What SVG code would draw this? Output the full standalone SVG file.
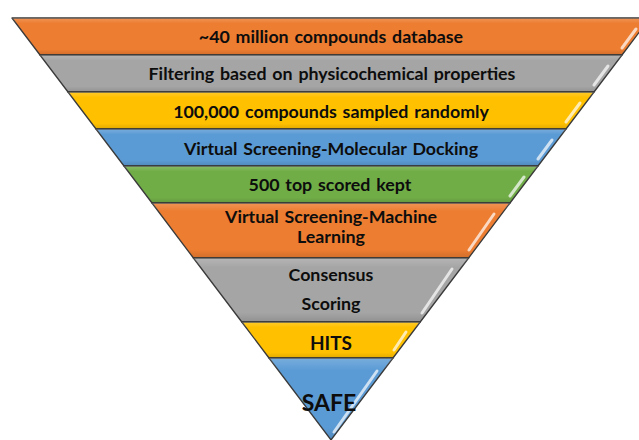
<svg xmlns="http://www.w3.org/2000/svg" width="639" height="440" viewBox="0 0 639 440">
<style>
.band{stroke:#3a3a3a;stroke-width:1.3;stroke-linejoin:round}
.o{fill:#ED7D31}.g{fill:#A5A5A5}.y{fill:#FFC000}.b{fill:#5B9BD5}.gr{fill:#70AD47}
.sh{fill:url(#shade);stroke:none}
.hl{stroke:#ffffff;stroke-opacity:0.7;stroke-width:3;stroke-linecap:round;fill:none}
text{font-family:Lato,"Liberation Sans",sans-serif;font-weight:bold;fill:#0d0d0d;text-anchor:middle;font-size:17.8px;word-spacing:1.5px}
</style>
<defs>
<linearGradient id="shade" x1="0" y1="0" x2="0" y2="1">
<stop offset="0" stop-color="#fff" stop-opacity="0.18"/>
<stop offset="0.15" stop-color="#fff" stop-opacity="0"/>
<stop offset="0.85" stop-color="#000" stop-opacity="0"/>
<stop offset="1" stop-color="#000" stop-opacity="0.12"/>
</linearGradient>
</defs>
<rect width="639" height="440" fill="#fff"/>
<g id="band1">
<polygon class="band o" points="12,18 650,18 622,55 40,55"/>
<polygon class="sh" points="12,18 650,18 622,55 40,55"/>
<line class="hl" x1="636" y1="29" x2="622" y2="48"/>
<text x="331" y="43">~40 million compounds database</text>
</g>
<g id="band2">
<polygon class="band g" points="40,55 622,55 594,92 68,92"/>
<polygon class="sh" points="40,55 622,55 594,92 68,92"/>
<line class="hl" x1="608" y1="66" x2="594" y2="85"/>
<text x="332" y="80">Filtering based on physicochemical properties</text>
</g>
<g id="band3">
<polygon class="band y" points="68,92 594,92 566,129 96,129"/>
<polygon class="sh" points="68,92 594,92 566,129 96,129"/>
<line class="hl" x1="580" y1="103" x2="566" y2="122"/>
<text x="331" y="118">100,000 compounds sampled randomly</text>
</g>
<g id="band4">
<polygon class="band b" points="96,129 566,129 538,166 124,166"/>
<polygon class="sh" points="96,129 566,129 538,166 124,166"/>
<line class="hl" x1="552" y1="140" x2="538" y2="159"/>
<text x="331" y="155">Virtual Screening-Molecular Docking</text>
</g>
<g id="band5">
<polygon class="band gr" points="124,166 538,166 510,203 152,203"/>
<polygon class="sh" points="124,166 538,166 510,203 152,203"/>
<line class="hl" x1="524" y1="177" x2="510" y2="196"/>
<text x="330" y="191">500 top scored kept</text>
</g>
<g id="band6">
<polygon class="band o" points="152,203 510,203 468.6,258 193.4,258"/>
<polygon class="sh" points="152,203 510,203 468.6,258 193.4,258"/>
<line class="hl" x1="494" y1="214" x2="469" y2="250"/>
<text x="331" y="223">Virtual Screening-Machine</text>
<text x="331" y="243">Learning</text>
</g>
<g id="band7">
<polygon class="band g" points="193.4,258 468.6,258 420.2,322 241.8,322"/>
<polygon class="sh" points="193.4,258 468.6,258 420.2,322 241.8,322"/>
<line class="hl" x1="452" y1="269" x2="422" y2="313"/>
<text x="331" y="281">Consensus</text>
<text x="331" y="310">Scoring</text>
</g>
<g id="band8">
<polygon class="band y" points="241.8,322 420.2,322 393,358 269,358"/>
<polygon class="sh" points="241.8,322 420.2,322 393,358 269,358"/>
<line class="hl" x1="406" y1="332" x2="394" y2="350"/>
<text x="331" y="350" style="font-size:19px">HITS</text>
</g>
<g id="band9">
<polygon class="band b" points="269,358 393,358 331,440"/>
<polygon class="sh" points="269,358 393,358 331,440"/>
<line class="hl" x1="377" y1="371" x2="334" y2="432"/>
<text x="329" y="411" style="font-size:23px">SAFE</text>
</g>
</svg>
